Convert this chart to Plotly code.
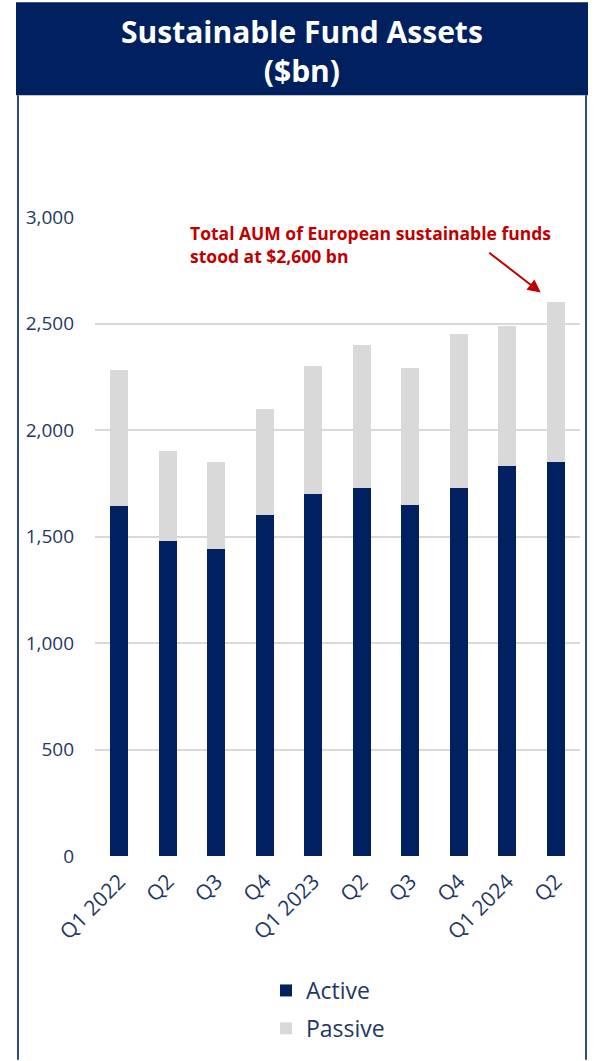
import plotly.graph_objects as go

# Quarterly sustainable fund assets ($bn)
quarters = ["Q1 2022", "Q2", "Q3", "Q4", "Q1 2023", "Q2", "Q3", "Q4", "Q1 2024", "Q2"]
active = [1645, 1478, 1440, 1600, 1700, 1730, 1648, 1730, 1832, 1850]
total = [2280, 1900, 1850, 2100, 2300, 2400, 2290, 2450, 2490, 2600]
passive = [t - a for t, a in zip(total, active)]
y_ticks = [0, 500, 1000, 1500, 2000, 2500, 3000]
y_tick_labels = ["0", "500", "1,000", "1,500", "2,000", "2,500", "3,000"]

NAVY = "#002060"
GREY = "#d9d9d9"
TEXT = "#1f3864"
RED = "#c00000"
FONT = "Open Sans"

x_idx = list(range(len(quarters)))

fig = go.Figure()
fig.add_trace(go.Bar(x=x_idx, y=active, name="Active", marker_color=NAVY,
                     marker_line_width=0, legendgroup="a"))
fig.add_trace(go.Bar(x=x_idx, y=passive, name="Passive", marker_color=GREY,
                     marker_line_width=0, legendgroup="p"))

W, H = 595, 1061
L, R, T, B = 95, 15, 217, 204
pw, ph = W - L - R, H - T - B


def px_x(p):
    return (p - L) / pw


def px_y(p):
    return (H - B - p) / ph


shapes = [
    # title band
    dict(type="rect", xref="paper", yref="paper",
         x0=px_x(16), x1=px_x(588), y0=px_y(95), y1=px_y(2),
         fillcolor=NAVY, line_width=0, layer="below"),
    # frame sides
    dict(type="line", xref="paper", yref="paper",
         x0=px_x(18), x1=px_x(18), y0=px_y(95), y1=px_y(1061),
         line=dict(color="#2e4a8a", width=2)),
    dict(type="line", xref="paper", yref="paper",
         x0=px_x(586), x1=px_x(586), y0=px_y(95), y1=px_y(1061),
         line=dict(color="#2e4a8a", width=2)),
]

annotations = [
    dict(xref="paper", yref="paper", x=0.5 * (px_x(16) + px_x(588)), y=px_y(51),
         text="<b>Sustainable Fund Assets<br>($bn)</b>", showarrow=False,
         font=dict(family=FONT, size=30, color="white"), xanchor="center",
         yanchor="middle"),
    dict(xref="paper", yref="paper", x=px_x(188), y=px_y(219),
         text="<b>Total AUM of European sustainable funds<br>stood at $2,600 bn</b>",
         showarrow=False, align="left", xanchor="left", yanchor="top",
         font=dict(family=FONT, size=17.5, color=RED)),
    dict(xref="x", yref="y", x=8.69, y=2645, text="", showarrow=True,
         ax=-53, ay=-41, arrowhead=2, arrowsize=1.3, arrowwidth=2,
         arrowcolor=RED),
]

fig.update_layout(
    width=W, height=H,
    margin=dict(l=L, r=R, t=T, b=B, pad=0),
    barmode="stack", bargap=0.62,
    paper_bgcolor="white", plot_bgcolor="white",
    font=dict(family=FONT, color=TEXT),
    shapes=shapes, annotations=annotations,
    showlegend=True,
    legend=dict(orientation="v", x=px_x(266), xanchor="left",
                y=px_y(969), yanchor="top", traceorder="grouped",
                tracegroupgap=5, font=dict(size=23, color=TEXT)),
    xaxis=dict(tickmode="array", tickvals=x_idx, ticktext=quarters,
               tickangle=-45, tickfont=dict(size=21, color=TEXT),
               range=[-0.5, len(quarters) - 0.5], showgrid=False,
               showline=False, zeroline=False, ticks="", automargin=False,
               ticklabelstandoff=8),
    yaxis=dict(range=[0, 3000], tickmode="array", tickvals=y_ticks,
               ticktext=y_tick_labels, tickfont=dict(size=19, color=TEXT),
               showgrid=True, gridcolor=GREY, gridwidth=2, zeroline=False,
               showline=False, ticks="", ticklabelstandoff=20,
               automargin=False),
)

fig.write_html("out.html")
